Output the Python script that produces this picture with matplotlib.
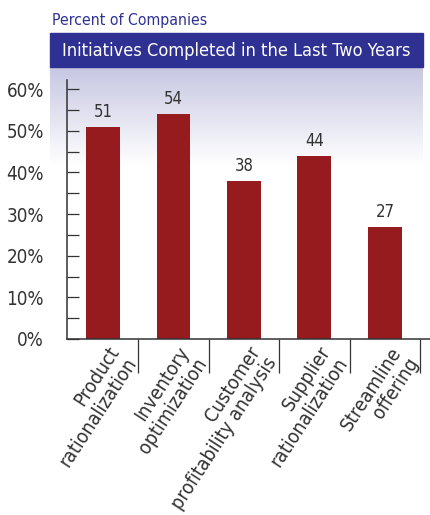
import numpy as np
import matplotlib
matplotlib.use('Agg')
import matplotlib.pyplot as plt
from matplotlib import font_manager
from matplotlib.patches import Rectangle
from matplotlib.transforms import ScaledTranslation

# data
categories = ['Product\nrationalization', 'Inventory\noptimization',
              'Customer\nprofitability analysis', 'Supplier\nrationalization',
              'Streamline\noffering']
percent = [51, 54, 38, 44, 27]
y_ticks = [0, 10, 20, 30, 40, 50, 60]
y_tick_labels = ['0%', '10%', '20%', '30%', '40%', '50%', '60%']

# narrow font if we have one
names = {f.name for f in font_manager.fontManager.ttflist}
if 'Liberation Sans Narrow' in names:
    plt.rcParams['font.family'] = ['Liberation Sans Narrow', 'DejaVu Sans']
    stretch = 'normal'
else:
    plt.rcParams['font.family'] = ['DejaVu Sans']
    stretch = 'condensed'

navy = '#2e3192'
bar_red = '#951b1e'
dark = '#333333'

W, H = 430, 515
fig = plt.figure(figsize=(W / 100, H / 100), dpi=100)


def fx(px):
    return px / W


def fy(py):
    return 1 - py / H


# lavender gradient under the title bar
grad_ax = fig.add_axes([fx(50), fy(165), fx(423) - fx(50), fy(67) - fy(165)], zorder=0)
grad = np.linspace(0, 1, 256).reshape(-1, 1)
top = np.array(matplotlib.colors.to_rgb('#c6c6e2'))
img = top * (1 - grad[..., None]) + np.ones(3) * grad[..., None]
grad_ax.imshow(img, aspect='auto', extent=[0, 1, 0, 1])
grad_ax.axis('off')

# title bar
fig.patches.append(Rectangle((fx(50), fy(67)), fx(423) - fx(50), fy(33) - fy(67),
                             transform=fig.transFigure, color=navy, zorder=1))
fig.text((fx(50) + fx(423)) / 2, fy(50.5), 'Initiatives Completed in the Last Two Years',
         color='white', fontsize=13.1, ha='center', va='center', fontstretch=stretch, zorder=2)
fig.text(fx(52), fy(25), 'Percent of Companies', color=navy, fontsize=11.3,
         ha='left', va='baseline', fontstretch=stretch)

# main axes
ax = fig.add_axes([fx(67), fy(339), fx(430) - fx(67), fy(80) - fy(339)], zorder=3)
ax.patch.set_alpha(0)
x = np.arange(len(categories))
bars = ax.bar(x, percent, width=0.48, color=bar_red, zorder=2)
for xi, v in zip(x, percent):
    ax.text(xi, v + 1.4, str(v), ha='center', va='bottom', fontsize=12, color=dark,
            fontstretch=stretch)

ax.set_ylim(0, 62.2)
ax.set_xlim(-0.51, 4.64)
ax.set_yticks(y_ticks)
ax.set_yticklabels(y_tick_labels, fontsize=13.5, color=dark, fontstretch=stretch)
ax.set_yticks(np.arange(5, 60, 10), minor=True)
ax.tick_params(axis='y', which='both', direction='in', length=8.6, width=0.9,
               color=dark, pad=16.5)

ax.set_xticks(x)
ax.set_xticklabels(categories, rotation=57, ha='right', va='top', rotation_mode='anchor',
                   fontsize=14, color=dark, fontstretch=stretch, linespacing=1.1)
ax.set_xticks(np.arange(0.5, 5, 1), minor=True)
ax.tick_params(axis='x', which='major', length=0, pad=3)
ax.tick_params(axis='x', which='minor', direction='out', length=24.5, width=0.9, color=dark)
for lbl in ax.get_xticklabels():
    lbl.set_transform(lbl.get_transform() + ScaledTranslation(4 / 100, 0, fig.dpi_scale_trans))

for side in ['top', 'right']:
    ax.spines[side].set_visible(False)
for side in ['left', 'bottom']:
    ax.spines[side].set_color(dark)
    ax.spines[side].set_linewidth(1.1)

fig.savefig('out.png', dpi=100)
